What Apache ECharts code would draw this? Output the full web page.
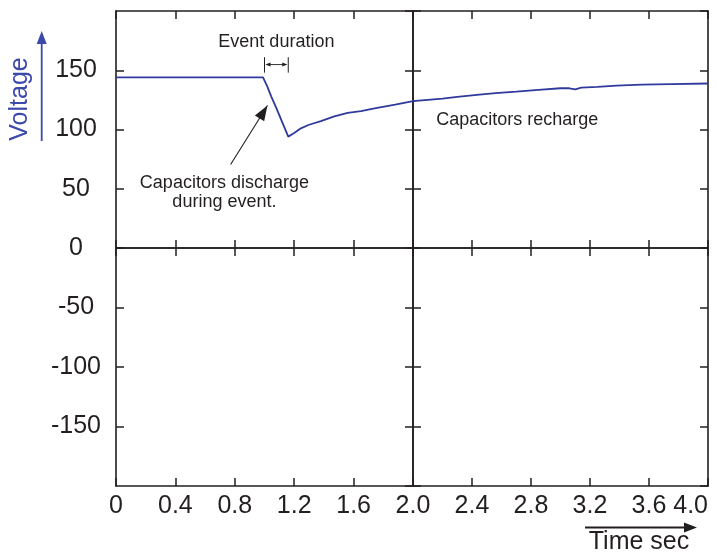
<!DOCTYPE html>
<html>
<head>
<meta charset="utf-8">
<title>Capacitor voltage during event</title>
<script src="https://cdn.jsdelivr.net/npm/echarts@6/dist/echarts.min.js"></script>
<style>
  html, body { margin: 0; padding: 0; background: #ffffff; }
  #chart { width: 717px; height: 552px; }
</style>
</head>
<body>
<div id="chart"></div>
<script>
// Voltage trace (seconds, volts)
var timeSec = [0, 0.5, 0.99, 1.02, 1.045, 1.08, 1.12, 1.16, 1.2, 1.245, 1.3, 1.38, 1.47, 1.56, 1.65, 1.75, 1.88,
               2.0, 2.1, 2.2, 2.3, 2.45, 2.56, 2.7, 2.85, 3.0, 3.06, 3.1, 3.14, 3.25, 3.38, 3.55, 3.75, 4.0];
var voltage = [144, 144, 144, 136, 128, 118, 106, 94, 97, 101, 104, 107, 111, 114, 115.5, 118, 121,
               124, 125, 126, 127.5, 129.5, 130.7, 132, 133.5, 134.8, 134.8, 133.8, 135.3, 136, 137, 137.8, 138.3, 138.8];

// Axis ranges and tick spacing
var timeRanges = [[0, 2], [2, 4]];
var timeStep = 0.4;
var voltRanges = [[0, 200], [-200, 0]];
var voltStep = 50;

// Event window marked above the trace
var eventStart = 1.0;
var eventEnd = 1.16;

var INK = '#231f20';
var TRACE = '#2f3a9c';
var LABEL_BLUE = '#3c48aa';
var FONT = '"Liberation Sans", Arial, Helvetica, sans-serif';

var points = timeSec.map(function (t, i) { return [t, voltage[i]]; });

// Four quadrant panels: top-left, top-right, bottom-left, bottom-right
var panels = [
  { left: 116, top: 11, width: 297, height: 237, tr: 0, vr: 0 },
  { left: 413, top: 11, width: 295, height: 237, tr: 1, vr: 0 },
  { left: 116, top: 248, width: 297, height: 238, tr: 0, vr: 1 },
  { left: 413, top: 248, width: 295, height: 238, tr: 1, vr: 1 }
];

var axisLine = { show: true, onZero: false, lineStyle: { color: INK, width: 1.6 } };
var axisTick = { show: true, inside: true, length: 8, lineStyle: { color: INK, width: 1.5 } };

var grids = [], xAxes = [], yAxes = [];
panels.forEach(function (p, g) {
  grids.push({ left: p.left, top: p.top, width: p.width, height: p.height, containLabel: false });
  var tr = timeRanges[p.tr], vr = voltRanges[p.vr];
  var showX = p.vr === 1;
  var showY = p.tr === 0;
  xAxes.push({
    type: 'value', gridIndex: g, position: 'bottom', min: tr[0], max: tr[1], interval: timeStep,
    axisLine: axisLine, axisTick: axisTick, splitLine: { show: false },
    axisLabel: {
      show: showX, margin: 8, fontSize: 25, fontFamily: FONT, color: INK,
      showMinLabel: p.tr === 0, showMaxLabel: true,
      alignMaxLabel: p.tr === 1 ? 'right' : null,
      formatter: function (v) { return Math.abs(v) < 1e-9 ? '0' : v.toFixed(1); }
    }
  });
  xAxes.push({
    type: 'value', gridIndex: g, position: 'top', min: tr[0], max: tr[1], interval: timeStep,
    axisLine: axisLine, axisTick: axisTick, splitLine: { show: false }, axisLabel: { show: false }
  });
  yAxes.push({
    type: 'value', gridIndex: g, position: 'left', min: vr[0], max: vr[1], interval: voltStep,
    axisLine: axisLine, axisTick: axisTick, splitLine: { show: false },
    axisLabel: {
      show: showY, margin: 40, align: 'center', fontSize: 25, fontFamily: FONT, color: INK,
      showMinLabel: p.vr === 0, showMaxLabel: false,
      formatter: function (v) { return String(Math.round(v)); }
    }
  });
  yAxes.push({
    type: 'value', gridIndex: g, position: 'right', min: vr[0], max: vr[1], interval: voltStep,
    axisLine: axisLine, axisTick: axisTick, splitLine: { show: false }, axisLabel: { show: false }
  });
});

var chart = echarts.init(document.getElementById('chart'), null, { renderer: 'canvas' });
chart.setOption({
  animation: false,
  backgroundColor: '#ffffff',
  grid: grids,
  xAxis: xAxes,
  yAxis: yAxes,
  series: [0, 1].map(function (g) {
    return {
      type: 'line', xAxisIndex: 2 * g, yAxisIndex: 2 * g, data: points,
      showSymbol: false, clip: true, smooth: false,
      lineStyle: { color: TRACE, width: 1.8 }
    };
  })
});

function px(t, v) {
  var g = t > 2 ? 1 : 0;
  return chart.convertToPixel({ xAxisIndex: 2 * g, yAxisIndex: 2 * g }, [t, v]);
}

function arrowHead(tip, tail, len, half, color) {
  var dx = tip[0] - tail[0], dy = tip[1] - tail[1];
  var d = Math.sqrt(dx * dx + dy * dy);
  var ux = dx / d, uy = dy / d;
  var bx = tip[0] - ux * len, by = tip[1] - uy * len;
  return {
    type: 'polygon',
    shape: { points: [tip, [bx - uy * half, by + ux * half], [bx + uy * half, by - ux * half]] },
    style: { fill: color }
  };
}

function text(str, x, y, opts) {
  opts = opts || {};
  return {
    type: 'text', x: x, y: y, rotation: opts.rotation || 0,
    style: {
      text: str, fill: opts.color || INK, font: (opts.size || 18) + 'px ' + FONT,
      align: opts.align || 'center', verticalAlign: 'middle', lineHeight: opts.lineHeight
    }
  };
}

function segment(a, b, color, width) {
  return {
    type: 'line', shape: { x1: a[0], y1: a[1], x2: b[0], y2: b[1] },
    style: { stroke: color, lineWidth: width }
  };
}

var gfx = [];

// Vertical axis title with its arrow
gfx.push(text('Voltage', 20.5, 99, { size: 25, color: LABEL_BLUE, rotation: Math.PI / 2 }));
gfx.push(segment([41.7, 141], [41.7, 42], LABEL_BLUE, 1.8));
gfx.push(arrowHead([41.7, 31], [41.7, 60], 13, 5, LABEL_BLUE));

// Horizontal axis title with its arrow
gfx.push(text('Time sec', 639, 542, { size: 25 }));
gfx.push(segment([585, 527.5], [686, 527.5], INK, 1.8));
gfx.push(arrowHead([697, 527.5], [585, 527.5], 13, 5, INK));

// Event duration bracket
var eA = px(eventStart, 161), eB = px(eventEnd, 161);
var eA2 = px(eventStart, 148), eB2 = px(eventEnd, 148);
var eMidA = px(eventStart, 154.8), eMidB = px(eventEnd, 154.8);
gfx.push(segment(eA, eA2, INK, 1));
gfx.push(segment(eB, eB2, INK, 1));
gfx.push(segment([eMidA[0] + 2, eMidA[1]], [eMidB[0] - 2, eMidB[1]], INK, 0.9));
gfx.push(arrowHead([eMidA[0] + 1, eMidA[1]], eMidB, 5, 2, INK));
gfx.push(arrowHead([eMidB[0] - 1, eMidB[1]], eMidA, 5, 2, INK));
var eText = px((eventStart + eventEnd) / 2, 173.4);
gfx.push(text('Event duration', eText[0], eText[1], { size: 18 }));

// Discharge callout
var tip = px(1.02, 120.2), tail = px(0.772, 70.4);
gfx.push(segment(tail, tip, INK, 1.1));
gfx.push(arrowHead(tip, tail, 15, 5.5, INK));
var d1 = px(0.73, 55.2), d2 = px(0.73, 39.2);
gfx.push(text('Capacitors discharge', d1[0], d1[1], { size: 18 }));
gfx.push(text('during event.', d2[0], d2[1], { size: 18 }));

// Recharge note
var r = px(2.157, 108);
gfx.push(text('Capacitors recharge', r[0], r[1], { size: 18, align: 'left' }));

chart.setOption({ graphic: { elements: gfx } });
</script>
</body>
</html>
